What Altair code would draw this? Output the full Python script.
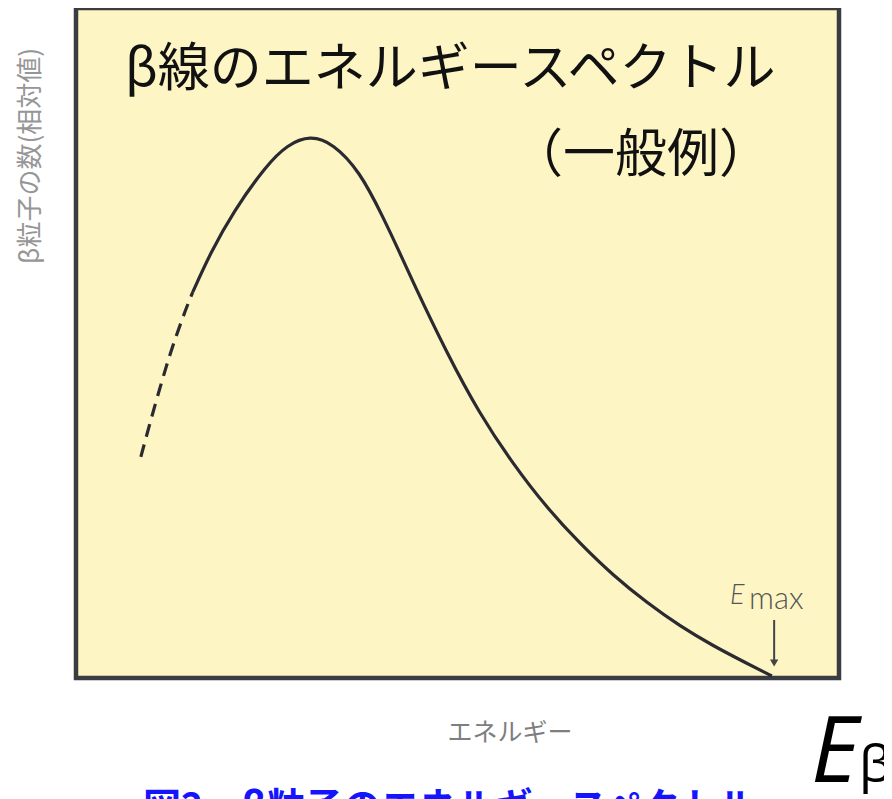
import altair as alt
import pandas as pd

# ---- data ----
energy_dashed = [8.5, 9.7, 11.3, 12.6, 14.5, 15.3]
count_dashed = [33.0, 38.1, 44.5, 49.4, 55.4, 57.6]

energy_solid = [15.3, 17.6, 20.6, 25.0, 27.7, 30.7, 33.7, 37.2, 40.2, 42.5, 44.2,
                48.6, 52.9, 57.3, 61.7, 66.1, 70.4, 74.8, 79.2, 83.5, 87.9, 91.2]
count_solid = [57.6, 63.4, 69.6, 76.6, 79.6, 81.0, 79.8, 75.6, 68.9, 63.3, 59.0,
               48.5, 39.4, 31.9, 25.4, 20.0, 15.3, 11.25, 7.7, 4.8, 2.2, 0.3]

e_max = [91.5]

title_text = "β線のエネルギースペクトル"
subtitle_text = "（一般例）"
y_label = "β粒子の数(相対値)"
x_label = "エネルギー"
caption = "図2　β粒子のエネルギースペクトル"

JP = "Noto Sans CJK JP"
LINE = "#2a2a30"

xs = alt.Scale(domain=[0, 100], nice=False, zero=False)
ys = alt.Scale(domain=[0, 100], nice=False, zero=False)

solid_df = pd.DataFrame({"E": energy_solid, "N": count_solid})
dashed_df = pd.DataFrame({"E": energy_dashed, "N": count_dashed})
emax_df = pd.DataFrame({"E": e_max})

solid = alt.Chart(solid_df).mark_line(
    interpolate="basis", strokeWidth=3.2, color=LINE
).encode(x=alt.X("E:Q", scale=xs, axis=None), y=alt.Y("N:Q", scale=ys, axis=None))

dashed = alt.Chart(dashed_df).mark_line(
    interpolate="basis", strokeWidth=3.2, color=LINE, strokeDash=[13, 8]
).encode(x=alt.X("E:Q", scale=xs, axis=None), y=alt.Y("N:Q", scale=ys, axis=None))


def label(txt, x, y, **kw):
    return alt.Chart(pd.DataFrame({"t": [txt]})).mark_text(**kw).encode(
        text="t:N", x=alt.value(x), y=alt.value(y)
    )


title = label(title_text, 49, 78, font=JP, fontSize=52, align="left",
              baseline="alphabetic", color="#111111")
subtitle = label(subtitle_text, 435, 164, font=JP, fontSize=52, align="left",
                 baseline="alphabetic", color="#111111")
ylab = label(y_label, -45, 148, font=JP, fontSize=26, angle=270, align="center",
             baseline="middle", color="#969696")
xlab = label(x_label, 434, 725, font=JP, fontSize=25, align="center",
             baseline="middle", color="#7e7e7e")

emax_E = label("E", 654, 596, font="Lato", fontSize=27, fontStyle="italic",
               fontWeight=300, align="left", baseline="alphabetic", color="#555555")
emax_sub = label("max", 673, 601, font="Lato", fontSize=31, fontWeight=300,
                 align="left", baseline="alphabetic", color="#555555")

arrow_stem = alt.Chart(emax_df).mark_rule(color="#444444", strokeWidth=2).encode(
    x=alt.X("E:Q", scale=xs, axis=None), y=alt.value(612), y2=alt.value(652)
)
arrow_head = alt.Chart(emax_df).mark_point(
    shape="triangle-down", filled=True, color="#444444", size=70, opacity=1
).encode(x=alt.X("E:Q", scale=xs, axis=None), y=alt.value(655))

big_E = label("E", 735, 774, font="Open Sans", fontSize=92, fontStyle="italic",
              align="left", baseline="alphabetic", color="#000000")
big_beta = label("β", 783, 774, font="Open Sans", fontSize=52,
                 align="left", baseline="alphabetic", color="#000000")

cap = label(caption, 67, 812, font=JP, fontSize=38, fontWeight="bold",
            align="left", baseline="alphabetic", color="#1414ff")

chart = alt.layer(
    dashed, solid, arrow_stem, arrow_head,
    title, subtitle, ylab, xlab, emax_E, emax_sub, big_E, big_beta, cap
).properties(
    width=763,
    height=670,
    padding={"left": 68, "top": 0, "right": 45, "bottom": 121},
    autosize=alt.AutoSizeParams(type="none"),
).configure_view(
    fill="#FDF5C4", stroke="#3b3b42", strokeWidth=4.5
)

chart.save("out.html", embed_options={"renderer": "svg", "actions": False})
